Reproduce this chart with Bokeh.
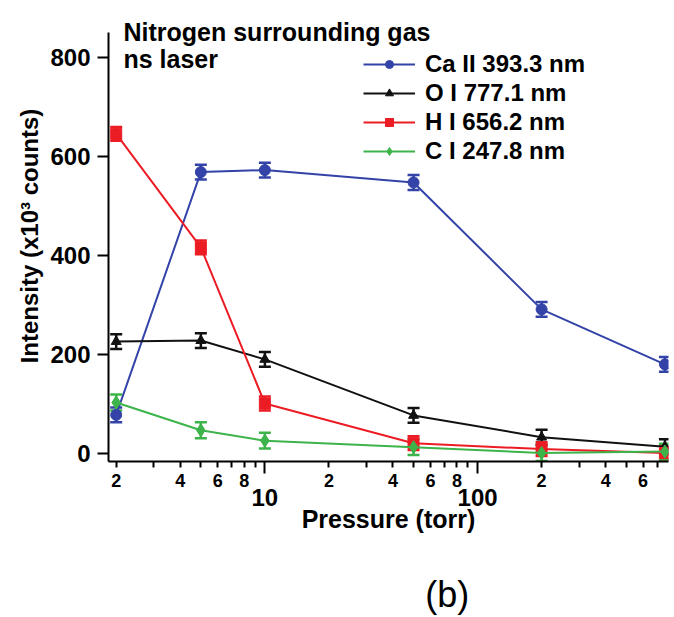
from bokeh.plotting import figure
from bokeh.models import (ColumnDataSource, Whisker, TeeHead, LinearAxis, LogAxis,
                          FixedTicker, Range1d, Legend, LegendItem, Label)
from bokeh.embed import file_html
from bokeh.resources import INLINE

# Emission line intensities vs. ambient nitrogen pressure (ns laser)
pressure = [2, 5, 10, 50, 200, 760]
ca_ii = [78, 568, 572, 547, 291, 180]
o_i = [226, 228, 190, 77, 33, 14]
h_i = [645, 416, 101, 21, 9, 1]
c_i = [103, 47, 26, 13, 1, 4]
ca_err = [15, 15, 15, 15, 15, 15]
o_err = [15, 15, 15, 15, 15, 15]
h_err = [14, 14, 14, 14, 14, 14]
c_err = [16, 16, 16, 16, 16, 16]

series_names = ["Ca II 393.3 nm", "O I 777.1 nm", "H I 656.2 nm", "C I 247.8 nm"]
y_ticks = [0, 200, 400, 600, 800]
x_small_ticks = [2, 3, 4, 5, 6, 7, 8, 9, 20, 30, 40, 50, 60, 70, 80, 90, 200, 300, 400, 500, 600, 700]
x_small_labels = {2: "2", 3: "", 4: "4", 5: "", 6: "6", 7: "", 8: "8", 9: "",
                  20: "2", 30: "", 40: "4", 50: "", 60: "6", 70: "", 80: "8", 90: "",
                  200: "2", 300: "", 400: "4", 500: "", 600: "6", 700: ""}
x_decades = [10, 100]

FONT = "Liberation Sans, Arial, sans-serif"
INK = "black"

# frame reaches above the y axis so the caption can sit beside the axis top
p = figure(width=674, height=617, x_axis_type="log",
           x_range=Range1d(1.84, 790), y_range=Range1d(-16, 894),
           x_axis_location=None, y_axis_location=None,
           output_backend="svg", toolbar_location=None,
           min_border_left=108, min_border_right=6, min_border_top=10, min_border_bottom=155)
p.outline_line_color = None
p.xgrid.visible = False
p.ygrid.visible = False
p.background_fill_color = "white"
p.border_fill_color = "white"

# y axis
yax = LinearAxis(ticker=FixedTicker(ticks=y_ticks, minor_ticks=[]), bounds=(-16, 850))
yax.axis_line_width = 2
yax.axis_line_color = INK
yax.major_tick_line_width = 2
yax.major_tick_line_color = INK
yax.major_tick_out = 11
yax.major_tick_in = 0
yax.minor_tick_line_color = None
yax.major_label_text_font = FONT
yax.major_label_text_font_style = "bold"
yax.major_label_text_font_size = "24px"
yax.major_label_text_color = INK
yax.major_label_standoff = 7
yax.axis_label = "Intensity (x10\u00b3 counts)"
yax.axis_label_text_font = FONT
yax.axis_label_text_font_style = "bold"
yax.axis_label_text_font_size = "24px"
yax.axis_label_text_color = INK
yax.axis_label_standoff = 4
p.add_layout(yax, "left")

# x axis: small in-decade ticks labelled, decade ticks longer
xax = LogAxis(ticker=FixedTicker(ticks=x_small_ticks, minor_ticks=x_decades))
xax.axis_line_width = 2
xax.axis_line_color = INK
xax.major_tick_line_width = 2
xax.major_tick_line_color = INK
xax.major_tick_out = 6
xax.major_tick_in = 0
xax.minor_tick_line_width = 2
xax.minor_tick_line_color = INK
xax.minor_tick_out = 12
xax.minor_tick_in = 0
xax.major_label_overrides = x_small_labels
xax.major_label_text_font = FONT
xax.major_label_text_font_style = "bold"
xax.major_label_text_font_size = "18px"
xax.major_label_text_color = INK
xax.major_label_standoff = 0
p.add_layout(xax, "below")

xax2 = LogAxis(ticker=FixedTicker(ticks=x_decades, minor_ticks=[]))
xax2.axis_line_color = None
xax2.major_tick_line_color = None
xax2.minor_tick_line_color = None
xax2.major_tick_out = 0
xax2.major_tick_in = 0
xax2.major_label_overrides = {10: "10", 100: "100"}
xax2.major_label_text_font = FONT
xax2.major_label_text_font_style = "bold"
xax2.major_label_text_font_size = "24px"
xax2.major_label_text_color = INK
xax2.major_label_standoff = -1
xax2.axis_label = "Pressure (torr)"
xax2.axis_label_text_font = FONT
xax2.axis_label_text_font_style = "bold"
xax2.axis_label_text_font_size = "25px"
xax2.axis_label_text_color = INK
xax2.axis_label_standoff = -4
p.add_layout(xax2, "below")

# panel tag "(b)", set as a lone tick label on a bare axis under the axis title
tag_at = 72
tag_axis = LogAxis(ticker=FixedTicker(ticks=[tag_at], minor_ticks=[]))
tag_axis.axis_line_color = None
tag_axis.major_tick_line_color = None
tag_axis.minor_tick_line_color = None
tag_axis.major_tick_out = 0
tag_axis.major_tick_in = 0
tag_axis.major_label_overrides = {tag_at: "(b)"}
tag_axis.major_label_text_font = FONT
tag_axis.major_label_text_font_style = "normal"
tag_axis.major_label_text_font_size = "36px"
tag_axis.major_label_text_color = INK
tag_axis.major_label_standoff = 38
p.add_layout(tag_axis, "below")

styles = [
    (ca_ii, ca_err, "#3343a8", "circle", 11),
    (o_i, o_err, "#111111", "triangle", 10),
    (h_i, h_err, "#ec1c24", "square", 11),
    (c_i, c_err, "#3cb44a", "diamond", 13),
]

items = []
for name, (vals, errs, color, marker, size) in zip(series_names, styles):
    src = ColumnDataSource(dict(
        x=pressure, y=vals,
        upper=[v + e for v, e in zip(vals, errs)],
        lower=[v - e for v, e in zip(vals, errs)],
    ))
    ln = p.line("x", "y", source=src, line_color=color, line_width=2)
    wh = Whisker(source=src, base="x", upper="upper", lower="lower",
                 line_color=color, line_width=2.5,
                 upper_head=TeeHead(size=12, line_color=color, line_width=2.5),
                 lower_head=TeeHead(size=12, line_color=color, line_width=2.5))
    p.add_layout(wh)
    sc = p.scatter("x", "y", source=src, marker=marker, size=size,
                   fill_color=color, line_color=color)
    items.append(LegendItem(label=name, renderers=[ln, sc]))

legend = Legend(items=items, location=(255, 296))
legend.glyph_width = 52
legend.glyph_height = 20
legend.label_height = 20
legend.spacing = 1
legend.padding = 0
legend.margin = 0
legend.label_standoff = 10
legend.label_text_font = FONT
legend.label_text_font_style = "bold"
legend.label_text_font_size = "24px"
legend.label_text_color = INK
legend.background_fill_alpha = 0
legend.border_line_color = None
p.add_layout(legend)

p.add_layout(Label(x=15, y=430, x_units="screen", y_units="screen",
                   text="Nitrogen surrounding gas", text_font=FONT,
                   text_font_style="bold", text_font_size="25px",
                   text_color=INK, text_baseline="alphabetic"))
p.add_layout(Label(x=15, y=403, x_units="screen", y_units="screen",
                   text="ns laser", text_font=FONT,
                   text_font_style="bold", text_font_size="25px",
                   text_color=INK, text_baseline="alphabetic"))

open("out.html", "w").write(file_html(p, INLINE))
